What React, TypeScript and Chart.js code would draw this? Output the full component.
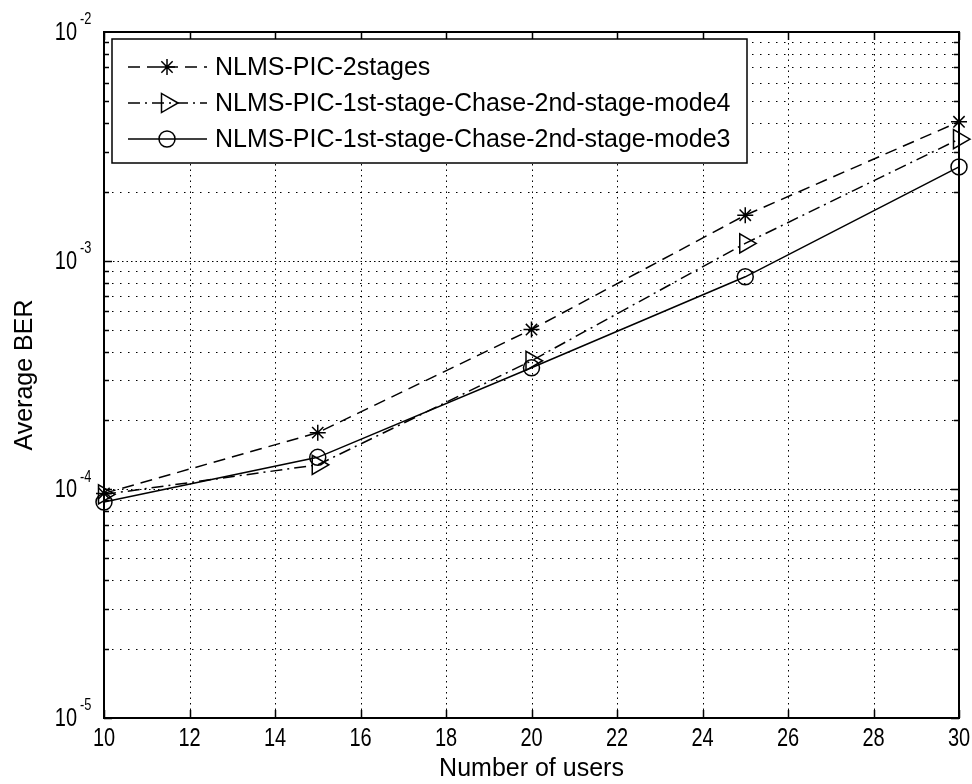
import { useEffect, useRef } from "react";
import { Chart, registerables } from "chart.js";

Chart.register(...registerables);

// ---- data ----
const users = [10, 15, 20, 25, 30];
const ber2stages = [9.6e-5, 1.77e-4, 5.0e-4, 1.58e-3, 4.05e-3];
const berMode4 = [9.5e-5, 1.28e-4, 3.65e-4, 1.19e-3, 3.4e-3];
const berMode3 = [8.8e-5, 1.38e-4, 3.4e-4, 8.5e-4, 2.57e-3];
const seriesLabels = [
  "NLMS-PIC-2stages",
  "NLMS-PIC-1st-stage-Chase-2nd-stage-mode4",
  "NLMS-PIC-1st-stage-Chase-2nd-stage-mode3",
];
const xTickValues = [10, 12, 14, 16, 18, 20, 22, 24, 26, 28, 30];
const yDecades = [-5, -4, -3, -2];
const xTitle = "Number of users";
const yTitle = "Average BER";

const SANS = '"Liberation Sans", Arial, sans-serif';
const NARROW_SCALE = 0.8;

function drawNarrowText(ctx: CanvasRenderingContext2D, text: string, x: number, y: number, size: number, align: CanvasTextAlign) {
  ctx.save();
  ctx.translate(x, y);
  ctx.scale(NARROW_SCALE, 1);
  ctx.font = size + "px " + SANS;
  ctx.textAlign = align;
  ctx.textBaseline = "middle";
  ctx.fillStyle = "#000";
  ctx.fillText(text, 0, 0);
  ctx.restore();
}

function drawMarker(ctx: CanvasRenderingContext2D, style: string, x: number, y: number, r: number) {
  ctx.save();
  ctx.setLineDash([]);
  ctx.lineWidth = 1.5;
  ctx.strokeStyle = "#000";
  ctx.beginPath();
  if (style === "star") {
    ctx.moveTo(x - r, y); ctx.lineTo(x + r, y);
    ctx.moveTo(x, y - r); ctx.lineTo(x, y + r);
    const d = r * 0.7071;
    ctx.moveTo(x - d, y - d); ctx.lineTo(x + d, y + d);
    ctx.moveTo(x - d, y + d); ctx.lineTo(x + d, y - d);
  } else if (style === "triangle") {
    ctx.moveTo(x + r, y);
    ctx.lineTo(x - r / 2, y - r * 0.866);
    ctx.lineTo(x - r / 2, y + r * 0.866);
    ctx.closePath();
  } else {
    ctx.arc(x, y, r, 0, Math.PI * 2);
  }
  ctx.stroke();
  ctx.restore();
}

const matlabFrame = {
  id: "matlabFrame",
  beforeDatasetsDraw(chart: any) {
    const { ctx, chartArea: a, scales } = chart;
    const xs = scales.x, ys = scales.y;
    ctx.save();
    ctx.strokeStyle = "#000";
    ctx.lineWidth = 1;
    ctx.setLineDash([1.5, 4]);
    xTickValues.forEach((v) => {
      const px = Math.round(xs.getPixelForValue(v)) + 0.5;
      if (px <= a.left + 1 || px >= a.right - 1) return;
      ctx.beginPath(); ctx.moveTo(px, a.top); ctx.lineTo(px, a.bottom); ctx.stroke();
    });
    for (let d = -5; d <= -3; d++) {
      for (let m = 1; m <= 9; m++) {
        const v = m * Math.pow(10, d);
        const py = Math.round(ys.getPixelForValue(v)) + 0.5;
        if (py >= a.bottom - 1 || py <= a.top + 1) continue;
        ctx.setLineDash(m === 1 ? [1.5, 3] : [1.5, 6.5]);
        ctx.beginPath(); ctx.moveTo(a.left, py); ctx.lineTo(a.right, py); ctx.stroke();
      }
    }
    ctx.restore();
  },
  afterDatasetsDraw(chart: any) {
    const { ctx, chartArea: a, scales } = chart;
    const xs = scales.x, ys = scales.y;
    ctx.save();
    ctx.strokeStyle = "#000";
    ctx.setLineDash([]);
    ctx.lineWidth = 2;
    ctx.strokeRect(a.left, a.top, a.right - a.left, a.bottom - a.top);
    ctx.lineWidth = 1.5;
    xTickValues.forEach((v) => {
      const px = Math.round(xs.getPixelForValue(v)) + 0.5;
      ctx.beginPath();
      ctx.moveTo(px, a.bottom); ctx.lineTo(px, a.bottom - 8);
      ctx.moveTo(px, a.top); ctx.lineTo(px, a.top + 8);
      ctx.stroke();
      drawNarrowText(ctx, String(v), xs.getPixelForValue(v), a.bottom + 21, 25, "center");
    });
    for (let d = -5; d <= -3; d++) {
      for (let m = 1; m <= 9; m++) {
        const v = m * Math.pow(10, d);
        const py = Math.round(ys.getPixelForValue(v)) + 0.5;
        const len = m === 1 ? 8 : 5;
        ctx.beginPath();
        ctx.moveTo(a.left, py); ctx.lineTo(a.left + len, py);
        ctx.moveTo(a.right, py); ctx.lineTo(a.right - len, py);
        ctx.stroke();
      }
    }
    yDecades.forEach((d) => {
      const py = ys.getPixelForValue(Math.pow(10, d));
      drawNarrowText(ctx, "10", a.left - 27, py + 1, 25, "right");
      drawNarrowText(ctx, String(d), a.left - 24, py - 12, 16, "left");
    });
    // legend
    const lx = 112, ly = 39, lw = 635, lh = 124;
    ctx.fillStyle = "#fff";
    ctx.fillRect(lx, ly, lw, lh);
    ctx.lineWidth = 1.5;
    ctx.strokeRect(lx, ly, lw, lh);
    const rows = [67, 103, 139];
    chart.data.datasets.forEach((ds: any, i: number) => {
      const y = rows[i];
      ctx.save();
      ctx.lineWidth = ds.borderWidth;
      ctx.setLineDash(ds.borderDash || []);
      ctx.beginPath(); ctx.moveTo(128, y); ctx.lineTo(207, y); ctx.stroke();
      ctx.restore();
      drawMarker(ctx, ds.pointStyle, 167, y, ds.pointRadius);
      ctx.fillStyle = "#000";
      ctx.font = "25px " + SANS;
      ctx.textAlign = "left";
      ctx.textBaseline = "middle";
      ctx.fillText(ds.label, 215, y + 1);
    });
    ctx.restore();
  },
};

export default function App() {
  const ref = useRef<HTMLCanvasElement>(null);
  useEffect(() => {
    document.body.style.margin = "0";
    const mk = (vals: number[]) => users.map((x, i) => ({ x, y: vals[i] }));
    const base = {
      borderColor: "#000",
      borderWidth: 1.5,
      pointBorderColor: "#000",
      pointBackgroundColor: "rgba(0,0,0,0)",
      pointBorderWidth: 1.5,
      clip: false as any,
      tension: 0,
      fill: false,
    };
    const chart = new Chart(ref.current!, {
      type: "line",
      data: {
        datasets: [
          { ...base, label: seriesLabels[0], data: mk(ber2stages), borderDash: [12, 7], pointStyle: "star", pointRadius: 8 },
          { ...base, label: seriesLabels[1], data: mk(berMode4), borderDash: [12, 5, 2, 5], pointStyle: "triangle", pointRadius: 11, pointRotation: 90 },
          { ...base, label: seriesLabels[2], data: mk(berMode3), pointStyle: "circle", pointRadius: 8 },
        ] as any,
      },
      options: {
        responsive: false,
        animation: false,
        devicePixelRatio: 1,
        layout: { padding: { top: 32, right: 13, left: 0, bottom: 0 } },
        plugins: { legend: { display: false }, tooltip: { enabled: false } },
        scales: {
          x: {
            type: "linear",
            min: 10,
            max: 30,
            ticks: { stepSize: 2, callback: () => "" },
            grid: { display: false, drawTicks: false },
            border: { display: false },
            title: { display: true, text: xTitle, color: "#000", font: { family: SANS, size: 25, lineHeight: 1.2 }, padding: { top: 0, bottom: 0 } },
            afterFit: (s: any) => { s.height = 66; },
          },
          y: {
            type: "logarithmic",
            min: 1e-5,
            max: 1e-2,
            ticks: { callback: () => "" },
            grid: { display: false, drawTicks: false },
            border: { display: false },
            title: { display: true, text: yTitle, color: "#000", font: { family: SANS, size: 25, lineHeight: 1.2 }, padding: { top: 10, bottom: 0 } },
            afterFit: (s: any) => { s.width = 104; },
          },
        },
      },
      plugins: [matlabFrame],
    });
    return () => chart.destroy();
  }, []);
  return (
    <div style={{ width: 972, height: 784, background: "#fff" }}>
      <canvas ref={ref} width={972} height={784} />
    </div>
  );
}
